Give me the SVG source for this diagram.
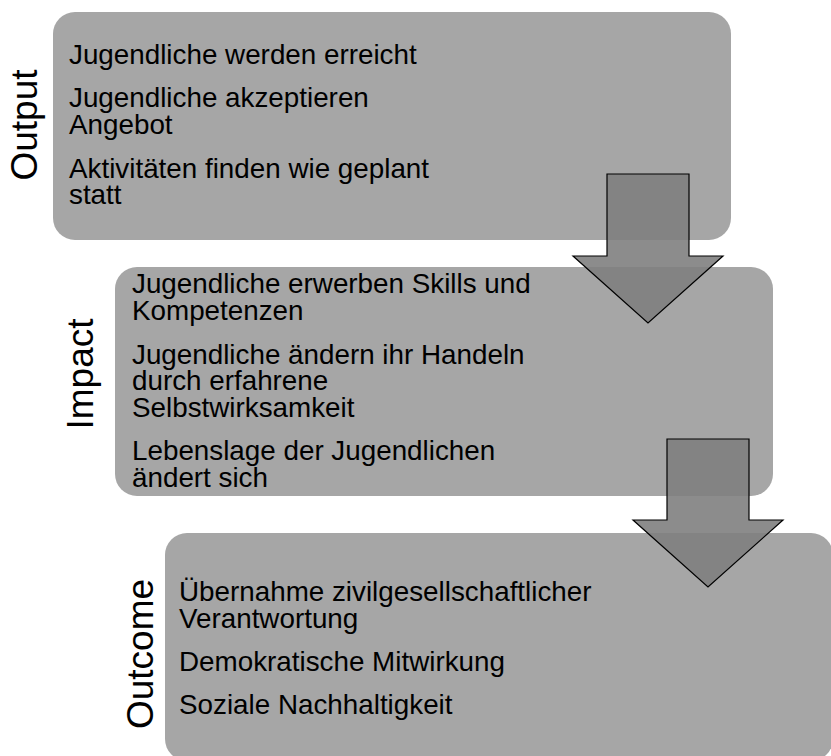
<svg xmlns="http://www.w3.org/2000/svg" width="831" height="756" viewBox="0 0 831 756">
<style>
.box{fill:#a6a6a6;}
.arrow{fill:#7f7f7f;fill-opacity:0.9;stroke:#000;stroke-width:1.2;stroke-linejoin:miter;}
.t{font-family:"Liberation Sans",Arial,sans-serif;font-size:27.8px;fill:#000;}
.lbl{font-family:"Liberation Sans",Arial,sans-serif;font-size:37px;fill:#000;text-anchor:middle;}
</style>
<rect width="831" height="756" fill="#fff"/>
<g id="output">
<rect class="box" x="53" y="12" width="678" height="228" rx="22"/>
<text class="lbl" transform="translate(37,125) rotate(-90)">Output</text>
<text class="t" x="69" y="64">Jugendliche werden erreicht</text>
<text class="t" x="69" y="107">Jugendliche akzeptieren</text>
<text class="t" x="69" y="134">Angebot</text>
<text class="t" x="69" y="178">Aktivitäten finden wie geplant</text>
<text class="t" x="69" y="204">statt</text>
</g>
<g id="impact">
<rect class="box" x="115" y="267" width="658" height="229" rx="22"/>
<text class="lbl" transform="translate(93,374) rotate(-90)">Impact</text>
<text class="t" x="132" y="293">Jugendliche erwerben Skills und</text>
<text class="t" x="132" y="320">Kompetenzen</text>
<text class="t" x="132" y="364">Jugendliche ändern ihr Handeln</text>
<text class="t" x="132" y="390">durch erfahrene</text>
<text class="t" x="132" y="417">Selbstwirksamkeit</text>
<text class="t" x="132" y="460">Lebenslage der Jugendlichen</text>
<text class="t" x="132" y="487">ändert sich</text>
</g>
<g id="outcome">
<rect class="box" x="165" y="533" width="668" height="228" rx="22"/>
<text class="lbl" transform="translate(153,654) rotate(-90)">Outcome</text>
<text class="t" x="179" y="601">Übernahme zivilgesellschaftlicher</text>
<text class="t" x="179" y="628">Verantwortung</text>
<text class="t" x="179" y="671">Demokratische Mitwirkung</text>
<text class="t" x="179" y="714">Soziale Nachhaltigkeit</text>
</g>
<g id="connectors">
<polygon class="arrow" points="607,174 689,174 689,256 723,256 648,323 573,256 607,256"/>
<polygon class="arrow" points="667,439 749,439 749,520 783,520 708,587 633,520 667,520"/>
</g>
</svg>
